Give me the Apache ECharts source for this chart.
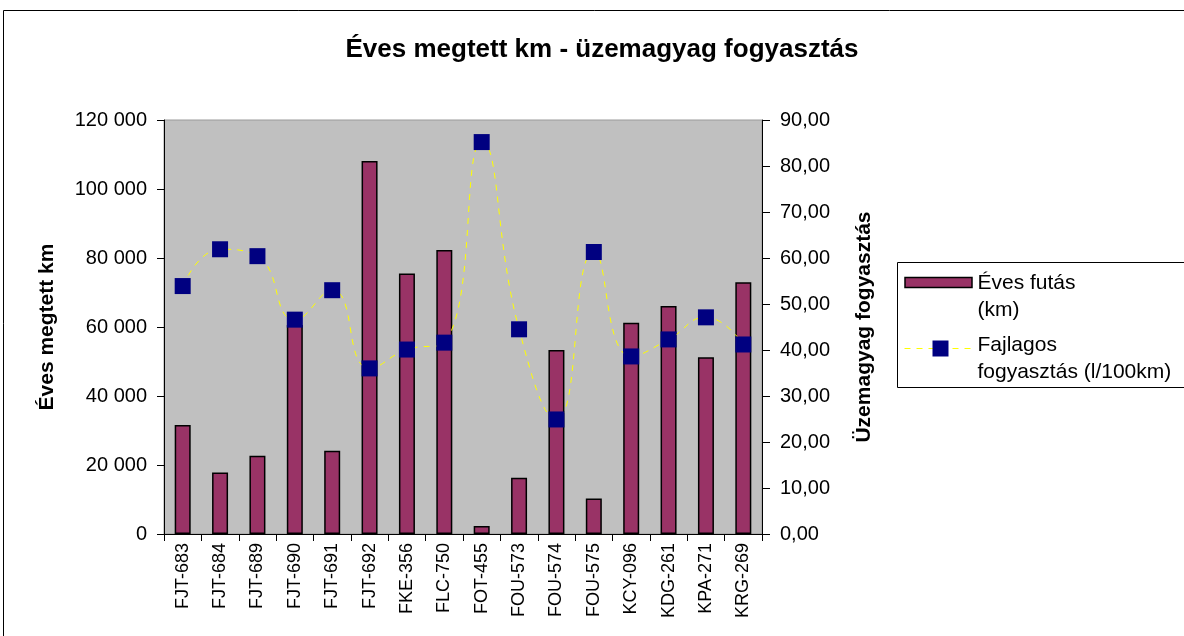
<!DOCTYPE html>
<html>
<head>
<meta charset="utf-8">
<title>Éves megtett km - üzemagyag fogyasztás</title>
<script src="https://cdn.jsdelivr.net/npm/echarts@6/dist/echarts.min.js"></script>
<style>
  html, body { margin: 0; padding: 0; background: #fff; }
  #chart { width: 1184px; height: 636px; }
</style>
</head>
<body>
<div id="chart"></div>
<script>
// vehicles (plate numbers)
const categories = ['FJT-683', 'FJT-684', 'FJT-689', 'FJT-690', 'FJT-691', 'FJT-692', 'FKE-356', 'FLC-750',
  'FOT-455', 'FOU-573', 'FOU-574', 'FOU-575', 'KCY-096', 'KDG-261', 'KPA-271', 'KRG-269'];

// yearly distance, km
const yearlyKm = [31600, 17800, 22700, 60600, 24100, 108100, 75500, 82300,
  2300, 16300, 53300, 10300, 61200, 66100, 51200, 73000];

// specific consumption, l/100km
const consumption = [53.9, 61.9, 60.4, 46.6, 53.0, 36.0, 40.1, 41.6,
  85.2, 44.5, 24.9, 61.3, 38.6, 42.3, 47.1, 41.2];

const kmTicks = { min: 0, max: 120000, interval: 20000 };
const consTicks = { min: 0, max: 90, interval: 10 };

const seriesNames = ['Éves futás (km)', 'Fajlagos fogyasztás (l/100km)'];

const FONT = '"Liberation Sans", Arial, sans-serif';
const BAR_COLOR = '#993366';
const MARKER_COLOR = '#000080';

const fmtKm = v => String(v).replace(/\B(?=(\d{3})+(?!\d))/g, ' ');
const fmtCons = v => v.toFixed(2).replace('.', ',');

const chart = echarts.init(document.getElementById('chart'), null, { renderer: 'canvas' });

const legendX = 897.5;
const legendY = 262.5;

chart.setOption({
  animation: false,
  backgroundColor: '#fff',
  textStyle: { fontFamily: FONT },
  title: {
    text: 'Éves megtett km - üzemagyag fogyasztás',
    left: 597,
    top: 32,
    textAlign: 'center',
    textStyle: { fontFamily: FONT, fontSize: 26, fontWeight: 'bold', color: '#000' }
  },
  grid: {
    left: 164,
    right: 422,
    top: 120,
    bottom: 102,
    show: true,
    backgroundColor: '#c0c0c0',
    borderColor: '#9a9a9a',
    borderWidth: 1
  },
  xAxis: {
    type: 'category',
    data: categories,
    axisLine: { lineStyle: { color: '#000', width: 1 } },
    axisTick: { show: true, length: 7, lineStyle: { color: '#000' } },
    axisLabel: {
      rotate: 90,
      interval: 0,
      margin: 9,
      fontFamily: FONT,
      fontSize: 18,
      color: '#000'
    },
    splitLine: { show: false }
  },
  yAxis: [
    {
      type: 'value',
      position: 'left',
      min: kmTicks.min,
      max: kmTicks.max,
      interval: kmTicks.interval,
      name: 'Éves megtett km',
      nameLocation: 'middle',
      nameRotate: 90,
      nameGap: 106,
      nameTextStyle: { fontFamily: FONT, fontSize: 21, fontWeight: 'bold', color: '#000' },
      axisLine: { show: true, lineStyle: { color: '#000', width: 1 } },
      axisTick: { show: true, length: 7, lineStyle: { color: '#000' } },
      axisLabel: { formatter: fmtKm, margin: 17, fontFamily: FONT, fontSize: 20, color: '#000' },
      splitLine: { show: false }
    },
    {
      type: 'value',
      position: 'right',
      min: consTicks.min,
      max: consTicks.max,
      interval: consTicks.interval,
      name: 'Üzemagyag fogyasztás',
      nameLocation: 'middle',
      nameRotate: 90,
      nameGap: 92,
      nameTextStyle: { fontFamily: FONT, fontSize: 21, fontWeight: 'bold', color: '#000' },
      axisLine: { show: true, lineStyle: { color: '#000', width: 1 } },
      axisTick: { show: true, length: 8, lineStyle: { color: '#000' } },
      axisLabel: { formatter: fmtCons, margin: 18, fontFamily: FONT, fontSize: 20, color: '#000' },
      splitLine: { show: false }
    }
  ],
  series: [
    {
      name: seriesNames[0],
      type: 'bar',
      yAxisIndex: 0,
      data: yearlyKm,
      barWidth: 16,
      itemStyle: { color: BAR_COLOR, borderColor: '#000', borderWidth: 1.5 }
    },
    {
      name: seriesNames[1],
      type: 'line',
      yAxisIndex: 1,
      data: consumption,
      smooth: 0.5,
      symbol: 'rect',
      symbolSize: 16,
      lineStyle: { color: '#ffff00', width: 1, type: [6, 6] },
      itemStyle: { color: MARKER_COLOR, borderWidth: 0 },
      z: 5
    }
  ],
  graphic: [
    // outer chart frame
    {
      type: 'rect',
      shape: { x: 3.5, y: 10.5, width: 1200, height: 700 },
      style: { fill: null, stroke: '#000', lineWidth: 1 },
      silent: true
    },
    // legend box
    {
      type: 'group',
      silent: true,
      children: [
        {
          type: 'rect',
          shape: { x: legendX, y: legendY, width: 290, height: 125 },
          style: { fill: '#fff', stroke: '#000', lineWidth: 1 }
        },
        {
          type: 'rect',
          shape: { x: legendX + 7.5, y: legendY + 15, width: 67, height: 10 },
          style: { fill: BAR_COLOR, stroke: '#000', lineWidth: 1.5 }
        },
        {
          type: 'text',
          x: legendX + 80, y: legendY + 21,
          style: { text: 'Éves futás', font: '21px ' + FONT, fill: '#000', verticalAlign: 'middle' }
        },
        {
          type: 'text',
          x: legendX + 80, y: legendY + 48,
          style: { text: '(km)', font: '21px ' + FONT, fill: '#000', verticalAlign: 'middle' }
        },
        {
          type: 'line',
          shape: { x1: legendX + 7, y1: legendY + 86, x2: legendX + 76, y2: legendY + 86 },
          style: { stroke: '#ffff00', lineWidth: 1, lineDash: [6, 6] }
        },
        {
          type: 'rect',
          shape: { x: legendX + 35, y: legendY + 78, width: 16, height: 16 },
          style: { fill: MARKER_COLOR }
        },
        {
          type: 'text',
          x: legendX + 80, y: legendY + 83,
          style: { text: 'Fajlagos', font: '21px ' + FONT, fill: '#000', verticalAlign: 'middle' }
        },
        {
          type: 'text',
          x: legendX + 80, y: legendY + 110,
          style: { text: 'fogyasztás (l/100km)', font: '21px ' + FONT, fill: '#000', verticalAlign: 'middle' }
        }
      ]
    }
  ]
});
</script>
</body>
</html>
